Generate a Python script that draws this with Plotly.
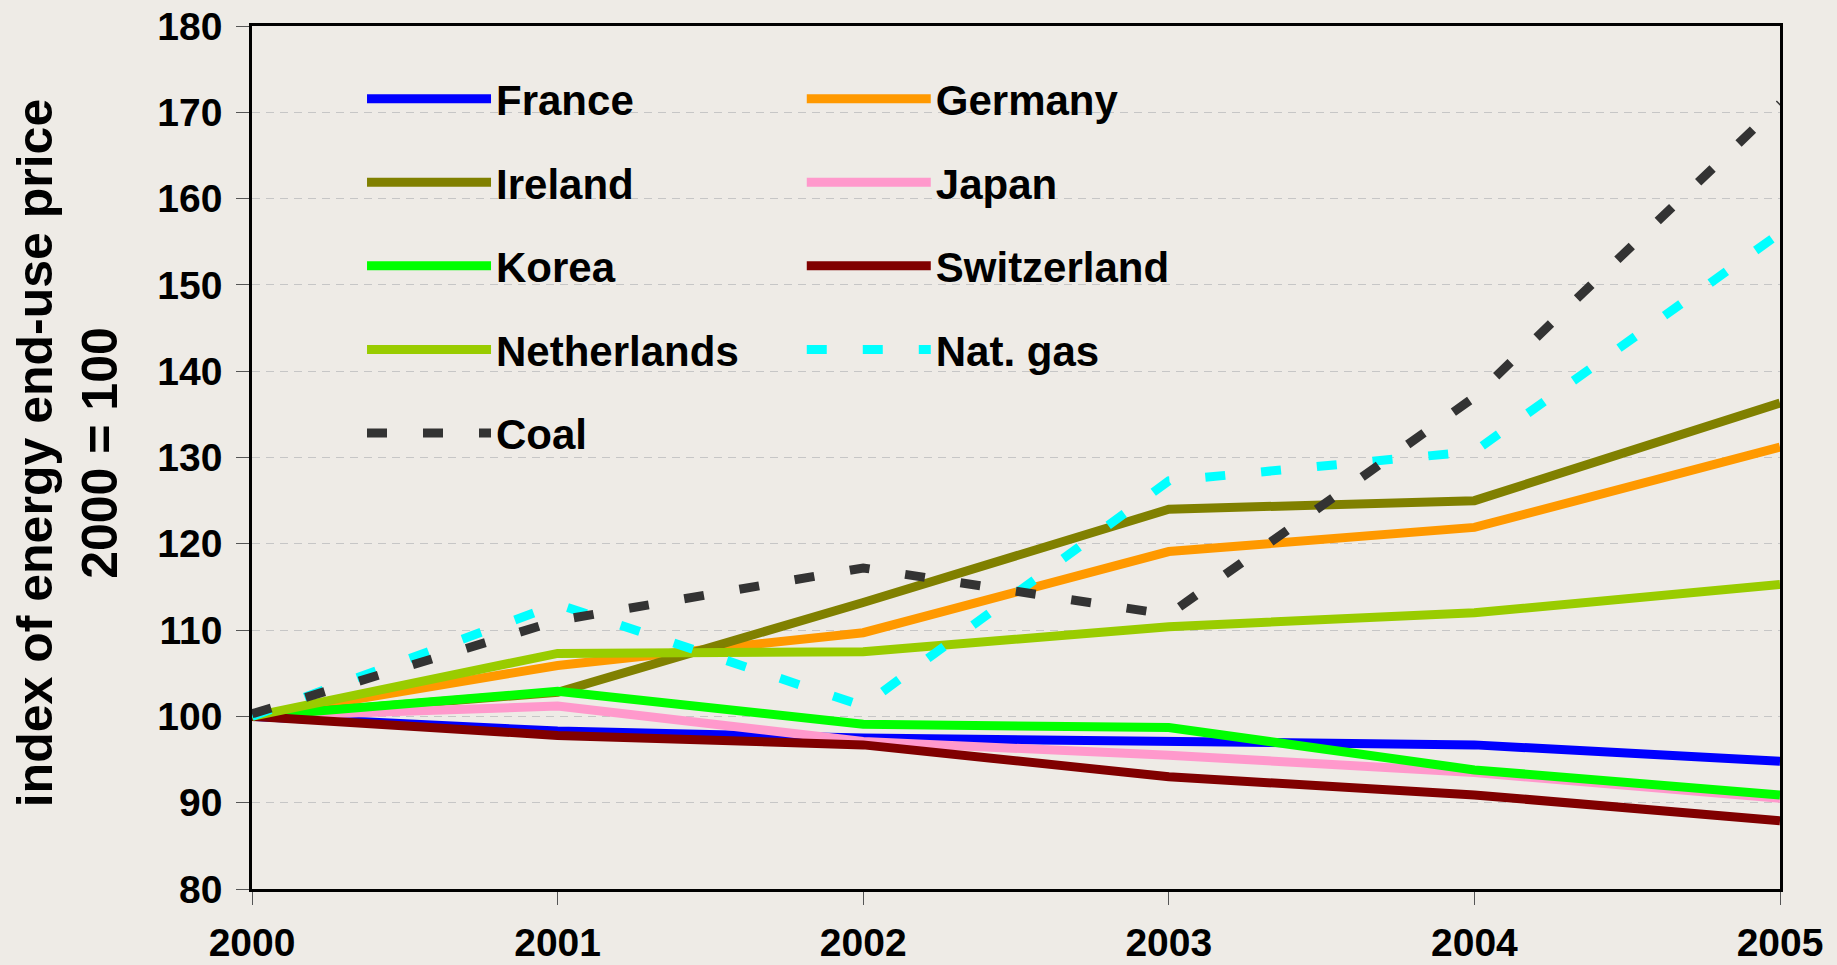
import plotly.graph_objects as go

# Energy end-use price indices, 2000 = 100
years = [2000, 2001, 2002, 2003, 2004, 2005]
year_labels = ["2000", "2001", "2002", "2003", "2004", "2005"]

france = [100.0, 98.3, 97.5, 97.1, 96.7, 94.8]
germany = [100.0, 105.9, 109.7, 119.1, 121.9, 131.2]
ireland = [100.0, 102.8, 113.2, 124.0, 125.0, 136.3]
japan = [100.0, 101.2, 97.1, 95.5, 93.5, 90.5]
korea = [100.0, 102.9, 99.1, 98.7, 93.8, 90.9]
switzerland = [100.0, 97.8, 96.7, 93.0, 90.9, 87.9]
netherlands = [100.0, 107.3, 107.5, 110.4, 112.0, 115.3]
nat_gas = [100.0, 113.0, 101.2, 127.3, 130.7, 156.0]
coal = [100.3, 111.1, 117.2, 111.8, 137.0, 171.0]

y_ticks = [80, 90, 100, 110, 120, 130, 140, 150, 160, 170, 180]

BG = "#EEEBE6"
FONT = "Liberation Sans"

series = [
    # name, values, colour, dash, legend column
    ("France", france, "#0000FF", "solid", "legend"),
    ("Germany", germany, "#FF9900", "solid", "legend2"),
    ("Ireland", ireland, "#808000", "solid", "legend"),
    ("Japan", japan, "#FF99CC", "solid", "legend2"),
    ("Korea", korea, "#00FF00", "solid", "legend"),
    ("Switzerland", switzerland, "#800000", "solid", "legend2"),
    ("Netherlands", netherlands, "#99CC00", "solid", "legend"),
    ("Nat. gas", nat_gas, "#00FFFF", "20px,36px", "legend2"),
    ("Coal", coal, "#333333", "20px,36px", "legend"),
]

fig = go.Figure()
for name, vals, color, dash, leg in series:
    fig.add_trace(go.Scatter(
        x=years, y=vals, name=name, mode="lines",
        line=dict(color=color, width=9, dash=dash),
        legend=leg, legendgroup=name, hoverinfo="skip",
    ))

legend_common = dict(
    orientation="v",
    bgcolor="rgba(0,0,0,0)",
    borderwidth=0,
    font=dict(family=FONT, size=42, color="black", weight="bold"),
    itemwidth=124,
    tracegroupgap=26,
    xanchor="left",
    yanchor="top",
    itemclick=False,
    itemdoubleclick=False,
)

tick_font = dict(family=FONT, size=39, color="black", weight="bold")

fig.update_layout(
    width=1837,
    height=965,
    autosize=False,
    margin=dict(l=252, r=57, t=26, b=76),
    paper_bgcolor=BG,
    plot_bgcolor=BG,
    showlegend=True,
    legend=dict(**legend_common, x=0.072, y=0.955),
    legend2=dict(**legend_common, x=0.3598, y=0.955),
    xaxis=dict(
        range=[2000, 2005],
        tickmode="array",
        tickvals=years,
        ticktext=year_labels,
        ticks="outside",
        ticklen=13,
        tickwidth=1,
        tickcolor="#555555",
        ticklabelstandoff=4,
        showgrid=False,
        zeroline=False,
        showline=True,
        linecolor="black",
        linewidth=2.5,
        mirror=True,
        automargin=False,
        tickfont=tick_font,
    ),
    yaxis=dict(
        range=[80, 180],
        tickmode="array",
        tickvals=y_ticks,
        ticktext=[str(v) for v in y_ticks],
        ticks="outside",
        ticklen=13,
        tickwidth=1,
        tickcolor="#555555",
        ticklabelstandoff=6,
        showgrid=True,
        gridcolor="#C6C6C6",
        gridwidth=1,
        griddash="8px,6px",
        zeroline=False,
        showline=True,
        linecolor="black",
        linewidth=2.5,
        mirror=True,
        automargin=False,
        tickfont=tick_font,
    ),
    shapes=[
        # plain backdrop behind the legend block, hiding the gridlines there
        dict(type="rect", xref="paper", yref="paper",
             x0=0.045, x1=0.625, y0=0.48, y1=0.975,
             fillcolor=BG, line=dict(width=0), layer="between"),
    ],
    annotations=[
        dict(
            text="index of energy end-use price<br>2000 = 100",
            xref="paper", yref="paper", x=-0.121, y=0.505,
            xanchor="center", yanchor="middle",
            textangle=-90, showarrow=False,
            font=dict(family=FONT, size=50, color="black", weight="bold"),
        ),
    ],
)

fig.write_html("out.html")
